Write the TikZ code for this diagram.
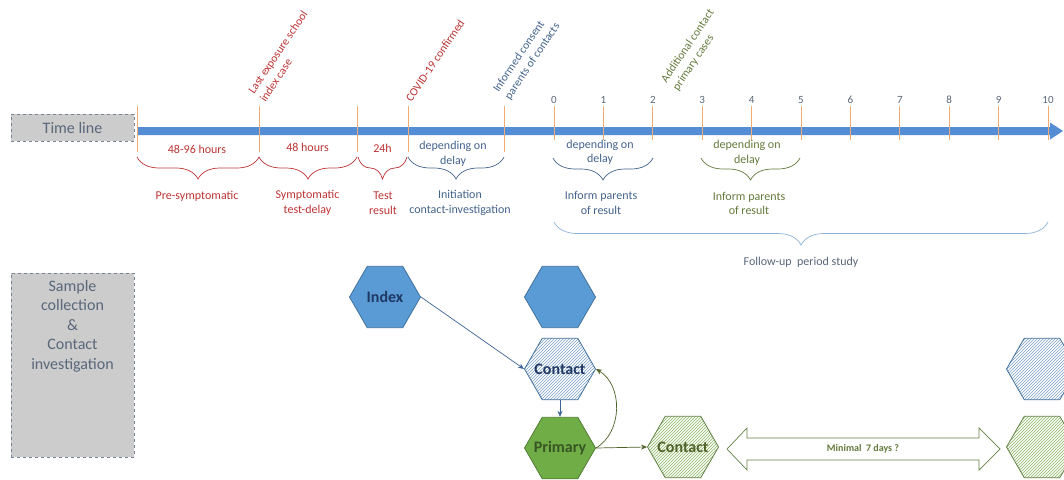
\documentclass[tikz,border=0pt]{standalone}
\usepackage{fontspec}
\setmainfont{Carlito}
\usetikzlibrary{shapes.geometric,decorations.pathreplacing,patterns,arrows.meta}
\definecolor{barblue}{RGB}{84,141,212}
\definecolor{tickorange}{RGB}{240,170,115}
\definecolor{boxgray}{RGB}{204,204,204}
\definecolor{boxedge}{RGB}{120,132,150}
\definecolor{graytxt}{RGB}{89,103,122}
\definecolor{redtxt}{RGB}{190,52,52}
\definecolor{bluetxt}{RGB}{68,100,140}
\definecolor{greentxt}{RGB}{100,122,60}
\definecolor{lightbrace}{RGB}{140,178,215}
\definecolor{hexblue}{RGB}{91,155,213}
\definecolor{hexblueedge}{RGB}{65,113,156}
\definecolor{navy}{RGB}{31,56,100}
\definecolor{stripeblue}{RGB}{125,160,200}
\definecolor{hexgreen}{RGB}{112,173,71}
\definecolor{hexgreenedge}{RGB}{80,126,50}
\definecolor{darkgreen}{RGB}{55,86,35}
\definecolor{gcontact}{RGB}{79,98,40}
\definecolor{stripegreen}{RGB}{150,180,110}
\definecolor{hatchgreenedge}{RGB}{100,130,70}
\definecolor{arrowblue}{RGB}{60,100,150}
\definecolor{arrowgreen}{RGB}{79,98,40}
\begin{document}
\begin{tikzpicture}[x=1pt,y=-1pt,
  txt/.style={inner sep=0pt, font=\fontsize{12}{14.5}\selectfont, align=center},
  redlbl/.style={txt, text=redtxt},
  bluelbl/.style={txt, text=bluetxt},
  greenlbl/.style={txt, text=greentxt},
  graylbl/.style={txt, text=graytxt},
  tk/.style={draw=tickorange, line width=0.8pt},
  daylbl/.style={inner sep=0pt, font=\fontsize{11}{13}\selectfont, text=graytxt},
  rotlbl/.style={inner sep=1pt, rotate=56, anchor=south west, align=left, font=\fontsize{11.5}{14}\selectfont},
  bracebase/.style={decorate, line width=0.7pt, decoration={brace, mirror, amplitude=22pt}},
  graybox/.style={draw=boxedge, dashed, fill=boxgray, line width=0.6pt, inner sep=0pt},
  hexbase/.style={regular polygon, regular polygon sides=6, minimum size=71pt, inner sep=0pt, line width=0.8pt, font=\bfseries\fontsize{16}{18}\selectfont},
  bluehex/.style={hexbase, fill=hexblue, draw=hexblueedge, text=navy},
  bluehatch/.style={hexbase, draw=hexblueedge, text=navy, preaction={fill=white}, pattern=north east lines, pattern color=stripeblue},
  greenhex/.style={hexbase, fill=hexgreen, draw=hexgreenedge, text=darkgreen},
  greenhatch/.style={hexbase, draw=hatchgreenedge, text=gcontact, preaction={fill=green!4!white}, pattern=north east lines, pattern color=stripegreen},
  bluearr/.style={draw=arrowblue, line width=0.7pt, -{Stealth[length=6pt,width=5pt]}},
  greenarr/.style={draw=arrowgreen, line width=0.7pt, -{Stealth[length=6pt,width=5pt]}}
]
\useasboundingbox (0,0) rectangle (1064,479);
\clip (0,0) rectangle (1064,479);
\fill[white] (0,0) rectangle (1064,479);

% ---------- Time line ----------
\node[graybox, minimum width=123pt, minimum height=27pt, text=graytxt, font=\fontsize{16}{18}\selectfont] (tlbox) at (72.5,127.5) {Time line};

\fill[barblue] (137,127) -- (1050,127) -- (1050,122.5) -- (1063,131) -- (1050,139.5) -- (1050,135) -- (137,135) -- cycle;

\foreach \x in {137,259,357,408,504} \draw[tk] (\x,106) -- (\x,152);
\foreach \d in {0,...,10} {
  \draw[tk] ({554+49.4*\d},106) -- ({554+49.4*\d},140);
  \node[daylbl] (day\d) at ({554+49.4*\d},100) {\d};
}

% rotated labels
\node[rotlbl, text=redtxt] (lastexp) at (266,104) {Last exposure school\\index case};
\node[rotlbl, text=redtxt] (covid) at (412,104) {COVID-19 confirmed};
\node[rotlbl, text=bluetxt] (consent) at (512,103) {Informed consent\\parents of contacts};
\node[rotlbl, text=greentxt] (addc) at (680,94) {Additional contact\\primary cases};

% durations
\node[redlbl] (h1) at (197,149) {48-96 hours};
\node[redlbl] (h2) at (307.5,147) {48 hours};
\node[redlbl] (h3) at (382.5,148) {24h};
\node[bluelbl] (h4) at (453,154) {depending on\\delay};
\node[bluelbl] (h5) at (600,152.5) {depending on\\delay};
\node[greenlbl] (h6) at (747,153) {depending on\\delay};

% braces
\draw[bracebase, draw=redtxt] (137,157) -- (259,157);
\draw[bracebase, draw=redtxt] (259,157) -- (357,157);
\draw[bracebase, draw=redtxt] (358,157) -- (407,157);
\draw[bracebase, draw=bluetxt] (408,157) -- (504,157);
\draw[bracebase, draw=bluetxt] (553,158) -- (653,158);
\draw[bracebase, draw=greentxt] (701,158) -- (800,158);
\draw[bracebase, draw=lightbrace, decoration={brace, mirror, amplitude=23pt}] (554,222) -- (1048,222);

% phase labels
\node[redlbl] (p1) at (197,196) {Pre-symptomatic};
\node[redlbl] (p2) at (307.5,203) {Symptomatic\\test-delay};
\node[redlbl] (p3) at (383,203) {Test\\result};
\node[bluelbl] (p4) at (460,203) {Initiation\\contact-investigation};
\node[bluelbl] (p5) at (601,203) {Inform parents\\of result};
\node[greenlbl] (p6) at (749,203.5) {Inform parents\\of result};
\node[graylbl] (p7) at (801,262) {Follow-up\ \ period study};

% ---------- Sample collection ----------
\node[graybox, minimum width=123pt, minimum height=184pt] (sbox) at (72.5,365) {};
\node[txt, text=graytxt, font=\fontsize{16}{19.5}\selectfont] (stxt) at (72.5,326) {Sample\\collection\\\&\\Contact\\investigation};

\node[bluehex] (index) at (385,297) {\makebox[0pt]{Index}};
\node[bluehex] (b2) at (560,297) {};
\node[bluehatch] (c1) at (560,369) {\makebox[0pt]{Contact}};
\node[greenhex] (pr) at (560,448) {\makebox[0pt]{Primary}};
\node[greenhatch] (c2) at (683,447) {\makebox[0pt]{Contact}};
\node[bluehatch] (c3) at (1042,369) {};
\node[greenhatch] (c4) at (1042,447) {};

\draw[bluearr] (index.east) -- (c1.west);
\draw[bluearr] (c1.south) -- (pr.north);
\draw[greenarr] (pr.east) .. controls +(27,-16) and +(27,16) .. (c1.east);
\draw[greenarr] (pr.east) -- (c2.west);

% double arrow
\draw[draw=hatchgreenedge, fill=white, line width=0.7pt]
  (727,449) -- (747,428) -- (747,438) -- (979,438) -- (979,428) -- (1000,449)
  -- (979,470) -- (979,460) -- (747,460) -- (747,470) -- cycle;
\node[inner sep=0pt, text=greentxt, font=\bfseries\fontsize{10}{12}\selectfont] (mt) at (863,449) {Minimal\ \ 7 days ?};
\end{tikzpicture}
\end{document}
